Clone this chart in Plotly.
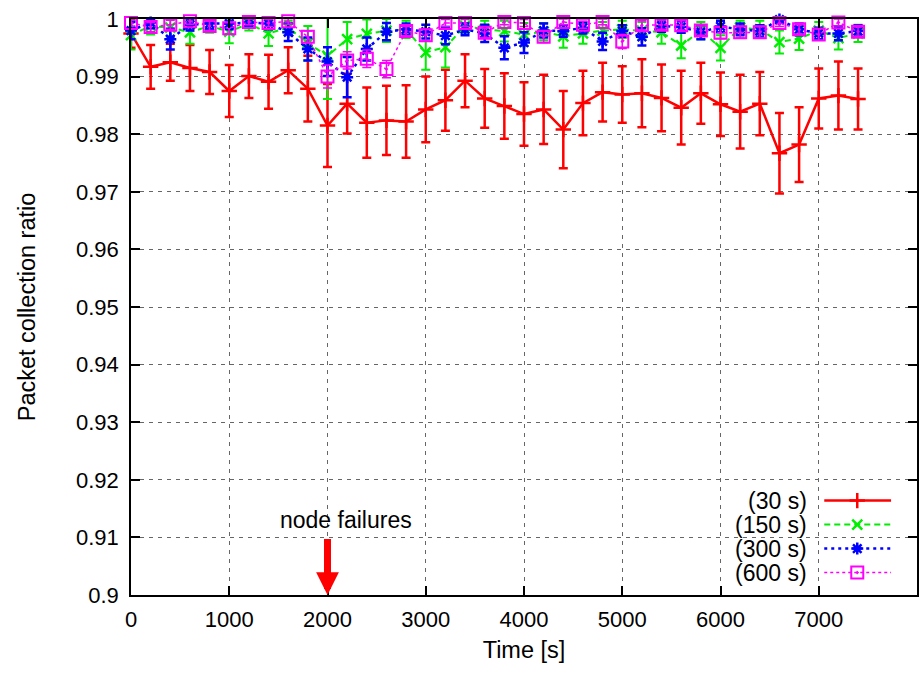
import plotly.graph_objects as go

time_s = list(range(0, 7600, 200))

ratio_30 = [0.9975, 0.9917, 0.9925, 0.9915, 0.9908, 0.9875, 0.9901, 0.9891, 0.9911, 0.9879,
            0.9815, 0.9853, 0.9820, 0.9824, 0.9822, 0.9843, 0.9859, 0.9893, 0.9862, 0.9849,
            0.9835, 0.9843, 0.9808, 0.9854, 0.9873, 0.9869, 0.9871, 0.9863, 0.9846, 0.9871,
            0.9852, 0.9839, 0.9853, 0.9767, 0.9782, 0.9862, 0.9867, 0.9861]
err_30 = [0.0025, 0.0038, 0.0032, 0.0040, 0.0038, 0.0045, 0.0038, 0.0047, 0.0040, 0.0057,
          0.0072, 0.0052, 0.0061, 0.0060, 0.0063, 0.0057, 0.0053, 0.0046, 0.0051, 0.0057,
          0.0055, 0.0060, 0.0067, 0.0056, 0.0051, 0.0049, 0.0059, 0.0058, 0.0064, 0.0053,
          0.0055, 0.0064, 0.0055, 0.0070, 0.0065, 0.0052, 0.0059, 0.0053]

ratio_150 = [0.9972, 0.9988, 0.9985, 0.9977, 0.9988, 0.9978, 0.9992, 0.9975, 0.9985, 0.9958,
             0.9936, 0.9965, 0.9974, 0.9980, 0.9982, 0.9942, 0.9951, 0.9988, 0.9982, 0.9979,
             0.9973, 0.9978, 0.9970, 0.9975, 0.9980, 0.9982, 0.9980, 0.9977, 0.9954, 0.9980,
             0.9950, 0.9985, 0.9982, 0.9960, 0.9966, 0.9980, 0.9967, 0.9975]
err_150 = [0.0025, 0.0015, 0.0015, 0.0020, 0.0012, 0.0020, 0.0012, 0.0022, 0.0012, 0.0030,
           0.0075, 0.0030, 0.0025, 0.0020, 0.0015, 0.0030, 0.0035, 0.0012, 0.0015, 0.0018,
           0.0020, 0.0015, 0.0020, 0.0018, 0.0015, 0.0015, 0.0015, 0.0020, 0.0022, 0.0015,
           0.0022, 0.0012, 0.0015, 0.0020, 0.0020, 0.0015, 0.0020, 0.0015]

ratio_300 = [0.9980, 0.9994, 0.9965, 0.9990, 0.9992, 0.9992, 0.9994, 0.9992, 0.9977, 0.9948,
             0.9926, 0.9899, 0.9948, 0.9978, 0.9982, 0.9978, 0.9971, 0.9982, 0.9975, 0.9950,
             0.9959, 0.9980, 0.9979, 0.9985, 0.9961, 0.9979, 0.9969, 0.9988, 0.9986, 0.9977,
             0.9987, 0.9982, 0.9979, 0.9999, 0.9982, 0.9975, 0.9975, 0.9979]
err_300 = [0.0015, 0.0010, 0.0018, 0.0010, 0.0010, 0.0010, 0.0008, 0.0010, 0.0015, 0.0020,
           0.0025, 0.0035, 0.0020, 0.0015, 0.0010, 0.0012, 0.0015, 0.0010, 0.0015, 0.0020,
           0.0018, 0.0012, 0.0010, 0.0010, 0.0015, 0.0010, 0.0015, 0.0010, 0.0010, 0.0012,
           0.0010, 0.0010, 0.0010, 0.0005, 0.0010, 0.0010, 0.0012, 0.0010]

ratio_600 = [0.9993, 0.9986, 0.9990, 0.9996, 0.9988, 0.9984, 0.9995, 0.9993, 0.9996, 0.9969,
             0.9900, 0.9928, 0.9931, 0.9913, 0.9979, 0.9972, 0.9993, 0.9993, 0.9976, 0.9995,
             0.9993, 0.9969, 0.9995, 0.9990, 0.9995, 0.9961, 0.9989, 0.9990, 0.9989, 0.9980,
             0.9976, 0.9977, 0.9977, 0.9993, 0.9982, 0.9973, 0.9994, 0.9978]
err_600 = [0.0005, 0.0008, 0.0008, 0.0005, 0.0008, 0.0010, 0.0005, 0.0006, 0.0005, 0.0010,
           0.0020, 0.0015, 0.0015, 0.0015, 0.0008, 0.0010, 0.0006, 0.0006, 0.0008, 0.0005,
           0.0006, 0.0010, 0.0005, 0.0006, 0.0005, 0.0012, 0.0008, 0.0008, 0.0008, 0.0008,
           0.0010, 0.0010, 0.0010, 0.0006, 0.0008, 0.0010, 0.0006, 0.0008]

series_names = ["(30 s)", "(150 s)", "(300 s)", "(600 s)"]
x_ticks = [0, 1000, 2000, 3000, 4000, 5000, 6000, 7000]
y_ticks = [0.9, 0.91, 0.92, 0.93, 0.94, 0.95, 0.96, 0.97, 0.98, 0.99, 1.0]
y_ticktext = ["0.9", "0.91", "0.92", "0.93", "0.94", "0.95", "0.96", "0.97", "0.98", "0.99", "1"]

FONT = "Liberation Sans, Arial, sans-serif"
styles = [
    dict(color="#ff0000", dash="solid", width=2.5, symbol="cross-thin", size=11, lw=2.5),
    dict(color="#00ee00", dash="6px,4px", width=2, symbol="x-thin", size=10, lw=2.5),
    dict(color="#0000ff", dash="3px,4px", width=2.5, symbol="asterisk", size=10, lw=2.5),
    dict(color="#ff00ff", dash="dot", width=1.5, symbol="square-open-dot", size=12, lw=2),
]
data = [(ratio_30, err_30), (ratio_150, err_150), (ratio_300, err_300), (ratio_600, err_600)]

fig = go.Figure()
for (vals, errs), st, name in zip(data, styles, series_names):
    fig.add_trace(go.Scatter(
        x=time_s, y=vals, name=name, mode="lines+markers",
        line=dict(color=st["color"], dash=st["dash"], width=st["width"]),
        marker=dict(symbol=st["symbol"], size=st["size"], color=st["color"],
                    line=dict(color=st["color"], width=st["lw"])),
        error_y=dict(type="data", array=errs, visible=True, color=st["color"],
                     thickness=st["width"], width=4.5),
        cliponaxis=False, showlegend=False,
    ))

# custom legend (samples to the right of right-aligned labels) on an overlay axis
leg_rows = [0.1639, 0.1223, 0.0807, 0.0390]
for st, name, ry in zip(styles, series_names, leg_rows):
    fig.add_trace(go.Scatter(
        x=[0.882, 0.924, 0.967], y=[ry, ry, ry], xaxis="x2", yaxis="y2",
        mode="lines", line=dict(color=st["color"], dash=st["dash"], width=st["width"]),
        showlegend=False, hoverinfo="skip"))
    fig.add_trace(go.Scatter(
        x=[0.924], y=[ry], xaxis="x2", yaxis="y2", mode="markers",
        marker=dict(symbol=st["symbol"], size=st["size"], color=st["color"],
                    line=dict(color=st["color"], width=st["lw"])),
        showlegend=False, hoverinfo="skip"))
    fig.add_annotation(x=0.862, y=ry, xref="x2", yref="y2", text=name, showarrow=False,
                       xanchor="right", yanchor="middle",
                       font=dict(family=FONT, size=23, color="black"))

fig.add_shape(type="rect", xref="paper", yref="paper", x0=0.751, x1=0.985, y0=0.013, y1=0.195,
              fillcolor="white", line=dict(width=0), layer="between")

# node failures marker
fig.add_annotation(x=1500, y=0.9131, xref="x", yref="y", text="node failures", showarrow=False,
                   xanchor="left", yanchor="middle", font=dict(family=FONT, size=23, color="black"))
fig.add_annotation(x=2000, y=0.9, ax=2000, ay=0.91, xref="x", yref="y", axref="x", ayref="y",
                   text="", showarrow=True, arrowhead=2, arrowsize=0.65, arrowwidth=7,
                   arrowcolor="#ff0000", standoff=0)

axis_common = dict(showline=True, linecolor="black", linewidth=1.5, mirror="ticks",
                   ticks="inside", ticklen=9, tickwidth=1.5, tickcolor="black",
                   showgrid=True, gridcolor="#666666", gridwidth=1, griddash="4px,5px",
                   zeroline=False, tickfont=dict(family=FONT, size=22, color="black"))

fig.update_layout(
    width=921, height=675,
    margin=dict(l=131, r=2, t=19, b=80),
    plot_bgcolor="white", paper_bgcolor="white",
    font=dict(family=FONT, size=22, color="black"),
    xaxis=dict(range=[0, 8000], tickvals=x_ticks, ticklabelstandoff=4,
               title=dict(text="Time [s]", font=dict(family=FONT, size=23.5), standoff=10),
               **axis_common),
    yaxis=dict(range=[0.9, 1.0], tickvals=y_ticks, ticktext=y_ticktext, ticklabelstandoff=6,
               title=dict(text="Packet collection ratio", font=dict(family=FONT, size=23.5), standoff=34),
               **axis_common),
    xaxis2=dict(overlaying="x", range=[0, 1], visible=False),
    yaxis2=dict(overlaying="y", range=[0, 1], visible=False),
    showlegend=False,
)

fig.write_html("out.html")
